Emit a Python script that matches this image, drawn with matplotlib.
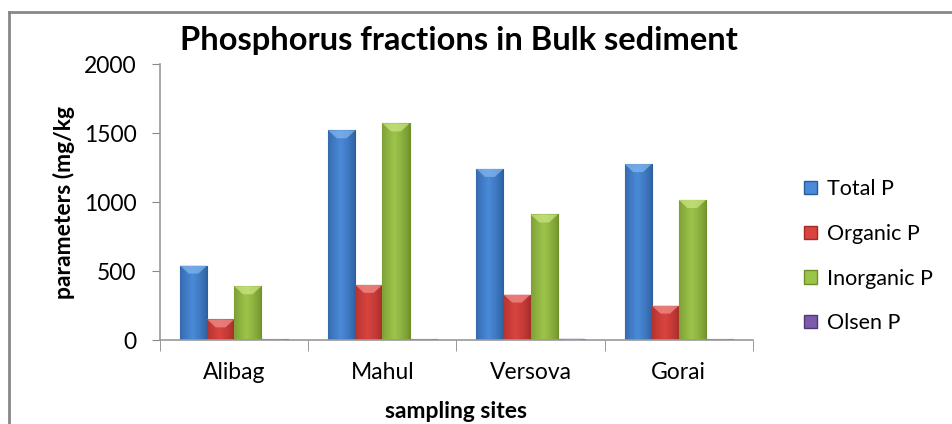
import numpy as np
import matplotlib
matplotlib.use("Agg")
import matplotlib.pyplot as plt
from matplotlib.lines import Line2D
from matplotlib.patches import Polygon, Patch

plt.rcParams['font.family'] = ['Lato', 'DejaVu Sans']

# data
sites = ["Alibag", "Mahul", "Versova", "Gorai"]
total_p = [540, 1520, 1240, 1275]
organic_p = [150, 400, 330, 250]
inorganic_p = [390, 1570, 910, 1015]
olsen_p = [5, 5, 10, 5]

series_names = ["Total P", "Organic P", "Inorganic P", "Olsen P"]
series_vals = [total_p, organic_p, inorganic_p, olsen_p]

# (edge dark, centre light, top bevel)
colors = [("#2B5C9A", "#4A8AD8", "#86B8F0"),
          ("#A32A28", "#D9443F", "#F29490"),
          ("#6F8F2B", "#9DC44A", "#CCE784"),
          ("#4F3878", "#7B5BAA", "#AC90D2")]

fig = plt.figure(figsize=(9.53, 4.24), dpi=100)
ax = fig.add_axes([0.168, 0.198, 0.622, 0.651])

x = np.arange(len(sites))
w = 0.183

def shade(bar, c_dark, c_light, c_top):
    x0, y0 = bar.get_x(), bar.get_y()
    bw, bh = bar.get_width(), bar.get_height()
    if bh <= 0:
        return
    t = np.linspace(0, 1, 64)
    prof = 1 - np.abs(t - 0.45) / 0.55
    prof = np.clip(prof, 0, 1) ** 0.7
    d = np.array(matplotlib.colors.to_rgb(c_dark))
    l = np.array(matplotlib.colors.to_rgb(c_light))
    img = d[None, :] + (l - d)[None, :] * prof[:, None]
    img = img[None, :, :]
    im = ax.imshow(img, extent=[x0, x0 + bw, y0, y0 + bh], aspect='auto',
                   zorder=2, interpolation='bilinear')
    im.set_clip_path(bar)
    # top bevel
    bev = min(bh, 58)
    tri = Polygon([[x0, y0 + bh], [x0 + bw, y0 + bh],
                   [x0 + bw * 0.68, y0 + bh - bev], [x0 + bw * 0.32, y0 + bh - bev]],
                  closed=True, facecolor=c_top, edgecolor='none', alpha=0.7, zorder=3)
    ax.add_patch(tri)

for i, (name, vals) in enumerate(zip(series_names, series_vals)):
    cd, cl, ct = colors[i]
    bars = ax.bar(x - 1.5 * w + i * w, vals, w, color=cl, edgecolor=cd,
                  linewidth=0.8, label=name, zorder=2)
    for b in bars:
        shade(b, cd, cl, ct)

ax.set_xlim(-0.5, 3.5)
ax.set_ylim(0, 2000)
ax.set_yticks([0, 500, 1000, 1500, 2000])
ax.set_xticks(x)
ax.set_xticklabels(sites)
ax.set_xticks(np.arange(-0.5, 4, 1), minor=True)
ax.tick_params(axis='x', which='major', length=0, pad=16, labelsize=16.5)
ax.tick_params(axis='x', which='minor', length=8, color='#888888', direction='out')
ax.tick_params(axis='y', length=6, color='#888888', labelsize=16.5, pad=11)

for s in ['top', 'right']:
    ax.spines[s].set_visible(False)
for s in ['left', 'bottom']:
    ax.spines[s].set_color('#999999')
    ax.spines[s].set_linewidth(1.2)

ax.set_ylabel("parameters (mg/kg", fontsize=16.5, fontweight='bold', labelpad=6)
ax.set_xlabel("sampling sites", fontsize=16.5, fontweight='bold', labelpad=13)
fig.text(0.482, 0.905, "Phosphorus fractions in Bulk sediment", ha='center', va='center',
         fontsize=23.5, fontweight='bold')

handles = [Patch(facecolor=colors[i][1], edgecolor=colors[i][0]) for i in range(4)]
fig.legend(handles, series_names, loc='upper left', bbox_to_anchor=(0.835, 0.598),
           frameon=False, fontsize=15.5, handlelength=0.58, handleheight=0.58,
           handletextpad=0.45, labelspacing=1.15, borderaxespad=0)

# chart area border (clipped at right and bottom)
fig.add_artist(Line2D([0.0095, 0.0095], [0.0, 0.972], color='#888888', lw=2,
                      transform=fig.transFigure))
fig.add_artist(Line2D([0.0095, 1.0], [0.972, 0.972], color='#888888', lw=2,
                      transform=fig.transFigure))

fig.savefig("out.png", dpi=100)
